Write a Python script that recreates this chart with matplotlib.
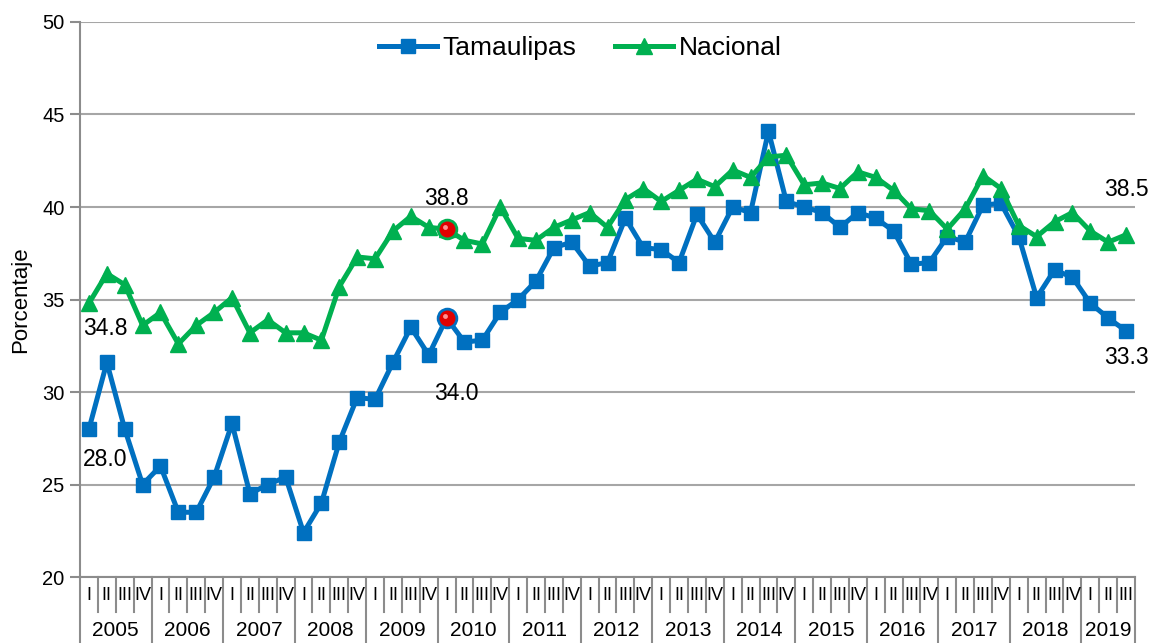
import matplotlib.pyplot as plt

plt.rcParams['font.family'] = ['Liberation Sans', 'DejaVu Sans']

# Quarterly data, 2005 I to 2019 III

years = [str(y) for y in range(2005, 2020)]
quarters = ["I", "II", "III", "IV"]

tamaulipas = [28.0, 31.6, 28.0, 25.0, 26.0, 23.5, 23.5, 25.4,
              28.3, 24.5, 25.0, 25.4, 22.4, 24.0, 27.3, 29.7,
              29.6, 31.6, 33.5, 32.0, 34.0, 32.7, 32.8, 34.3,
              35.0, 36.0, 37.8, 38.1, 36.8, 37.0, 39.4, 37.8,
              37.7, 37.0, 39.6, 38.1, 40.0, 39.7, 44.1, 40.3,
              40.0, 39.7, 38.9, 39.7, 39.4, 38.7, 36.9, 37.0,
              38.4, 38.1, 40.1, 40.2, 38.4, 35.1, 36.6, 36.2,
              34.8, 34.0, 33.3]

nacional = [34.8, 36.4, 35.8, 33.6, 34.3, 32.6, 33.6, 34.3,
            35.1, 33.2, 33.9, 33.2, 33.2, 32.8, 35.7, 37.3,
            37.2, 38.7, 39.5, 38.9, 38.8, 38.2, 38.0, 40.0,
            38.3, 38.2, 38.9, 39.3, 39.7, 38.9, 40.4, 41.0,
            40.3, 40.9, 41.5, 41.1, 42.0, 41.6, 42.7, 42.8,
            41.2, 41.3, 41.0, 41.9, 41.6, 40.9, 39.9, 39.8,
            38.8, 39.9, 41.7, 41.0, 39.0, 38.4, 39.2, 39.7,
            38.7, 38.1, 38.5]

# labels shown on the chart: (series, index, text, offset in pixels)
labels = [("t", 0, "28.0", (16, -30)),
          ("n", 0, "34.8", (16, -25)),
          ("n", 20, "38.8", (0, 31)),
          ("t", 20, "34.0", (10, -75)),
          ("n", 58, "38.5", (0, 45)),
          ("t", 58, "33.3", (0, -27))]
highlight = 20

blue = "#0070C0"
green = "#00B050"
gray = "#8C8C8C"

x = list(range(len(tamaulipas)))

fig = plt.figure(figsize=(11.53, 6.43), dpi=100)
ax = fig.add_axes([0.0694, 0.1026, 0.915, 0.8632])

ax.plot(x, tamaulipas, color=blue, lw=3.6, marker="s", ms=10, label="Tamaulipas", zorder=3)
ax.plot(x, nacional, color=green, lw=3.6, marker="^", ms=11, label="Nacional", zorder=4)

# highlighted points
ax.plot(highlight, tamaulipas[highlight], marker="o", ms=13.5, mfc="#E00000", mec=blue, mew=2, zorder=5)
ax.plot(highlight, nacional[highlight], marker="o", ms=13.5, mfc="#E00000", mec=green, mew=2, zorder=5)
ax.plot(highlight - 0.08, tamaulipas[highlight] + 0.12, marker="o", ms=3.5, color="#FF9090", mew=0, zorder=6)
ax.plot(highlight - 0.08, nacional[highlight] + 0.12, marker="o", ms=3.5, color="#FF9090", mew=0, zorder=6)

for s, i, txt, off in labels:
    yv = tamaulipas[i] if s == "t" else nacional[i]
    ax.annotate(txt, (i, yv), xytext=off, textcoords="offset pixels",
                ha="center", va="center", fontsize=16.5, color="black")

ax.set_xlim(-0.5, len(x) - 0.5)
ax.set_ylim(20, 50)
ax.set_yticks(range(20, 51, 5))
ax.yaxis.grid(True, color="#A6A6A6", lw=1.5)
ax.set_axisbelow(True)
ax.tick_params(axis="y", length=7, width=1.5, color=gray, labelsize=14.5, pad=4)
ax.set_xticks([])
ax.set_ylabel("Porcentaje", fontsize=16, labelpad=8)

for sp in ["top", "right"]:
    ax.spines[sp].set_visible(False)
for sp in ["left", "bottom"]:
    ax.spines[sp].set_color(gray)
    ax.spines[sp].set_linewidth(1.5)

# two-level category axis
tr = ax.get_xaxis_transform()
for i in range(len(x)):
    ax.text(i, -0.033, quarters[i % 4], transform=tr, ha="center", va="center", fontsize=13)
    if i % 4 != 0:
        ax.plot([i - 0.5, i - 0.5], [0, -0.063], transform=tr, color=gray, lw=1.5, clip_on=False)
for k, yr in enumerate(years):
    start = 4 * k
    end = min(start + 4, len(x))
    ax.text((start + end - 1) / 2, -0.097, yr, transform=tr, ha="center", va="center", fontsize=15)
    ax.plot([start - 0.5, start - 0.5], [0, -0.13], transform=tr, color=gray, lw=1.5, clip_on=False)
ax.plot([len(x) - 0.5, len(x) - 0.5], [0, -0.13], transform=tr, color=gray, lw=1.5, clip_on=False)

ax.legend(loc="center", bbox_to_anchor=(0.474, 0.953), ncol=2, frameon=False,
          fontsize=19, handlelength=2.2, handletextpad=0.2, columnspacing=1.5)

fig.savefig("out.png", dpi=100)
